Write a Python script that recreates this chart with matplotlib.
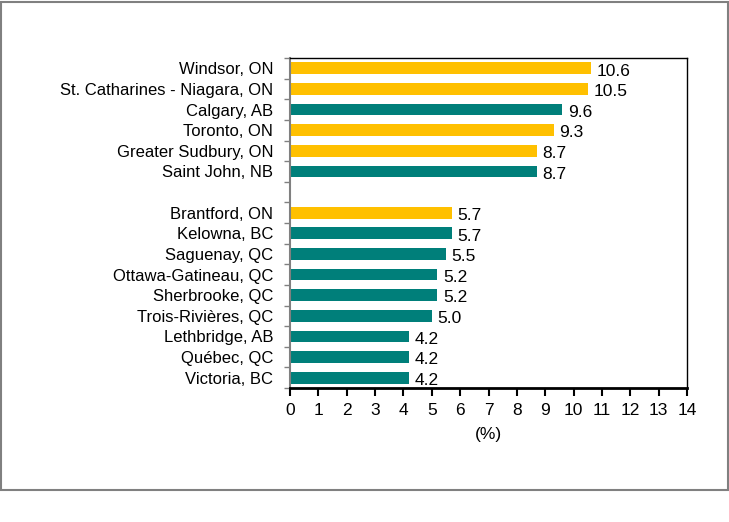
import matplotlib
matplotlib.use('Agg')
import matplotlib.pyplot as plt
from matplotlib.patches import Rectangle

plt.rcParams['font.family'] = ['Liberation Sans', 'DejaVu Sans']

# Datos (de arriba hacia abajo)
cities_top = ['Windsor, ON', 'St. Catharines - Niagara, ON', 'Calgary, AB',
              'Toronto, ON', 'Greater Sudbury, ON', 'Saint John, NB']
values_top = [10.6, 10.5, 9.6, 9.3, 8.7, 8.7]
cities_bottom = ['Brantford, ON', 'Kelowna, BC', 'Saguenay, QC',
                 'Ottawa-Gatineau, QC', 'Sherbrooke, QC', 'Trois-Rivières, QC',
                 'Lethbridge, AB', 'Québec, QC', 'Victoria, BC']
values_bottom = [5.7, 5.7, 5.5, 5.2, 5.2, 5.0, 4.2, 4.2, 4.2]
xticks = list(range(0, 15))

GOLD = '#FFC000'
TEAL = '#007F7A'


def main():
    fig = plt.figure(figsize=(7.29, 5.22), dpi=100)
    ax = fig.add_axes([290 / 729, (522 - 388) / 522, 397 / 729, 330 / 522])

    # posiciones: grupo superior, un hueco, grupo inferior
    pos_top = list(range(len(cities_top)))
    pos_bottom = [len(cities_top) + 1 + i for i in range(len(cities_bottom))]
    cities = cities_top + cities_bottom
    values = values_top + values_bottom
    pos = pos_top + pos_bottom
    colors = [GOLD if c.endswith('ON') else TEAL for c in cities]

    ax.barh(pos, values, height=0.57, color=colors, zorder=2)
    for p, v in zip(pos, values):
        ax.annotate(f'{v:.1f}', (v, p), xytext=(4, -2), textcoords='offset points',
                    ha='left', va='center', fontsize=12.5)

    n_slots = pos[-1] + 1
    ax.set_ylim(n_slots - 0.5, -0.5)
    ax.set_xlim(0, 14)

    # marcas en los límites de categoría, etiquetas en los centros
    ax.set_yticks([i - 0.5 for i in range(n_slots + 1)])
    ax.set_yticklabels([])
    ax.set_yticks(pos, minor=True)
    ax.set_yticklabels(cities, minor=True, fontsize=12)
    ax.tick_params(axis='y', which='major', length=4, width=1, color='#808080',
                   direction='out')
    ax.tick_params(axis='y', which='minor', length=0, pad=12)

    ax.set_xticks(xticks)
    ax.set_xticklabels([str(t) for t in xticks], fontsize=12.5)
    ax.tick_params(axis='x', length=6, width=1.5, color='black', pad=5)
    ax.set_xlabel('(%)', fontsize=12.5, labelpad=6)

    ax.spines['left'].set_color('#808080')
    ax.spines['left'].set_linewidth(1.5)
    ax.spines['bottom'].set_linewidth(2)
    ax.spines['top'].set_linewidth(1)
    ax.spines['right'].set_linewidth(1)

    # marco gris exterior
    fig.patches.append(Rectangle((0.5 / 729, (522 - 490) / 522), 727 / 729,
                                 488.5 / 522, transform=fig.transFigure,
                                 fill=False, edgecolor='#808080', linewidth=1.5))

    fig.savefig('out.png', dpi=100)


if __name__ == '__main__':
    main()
